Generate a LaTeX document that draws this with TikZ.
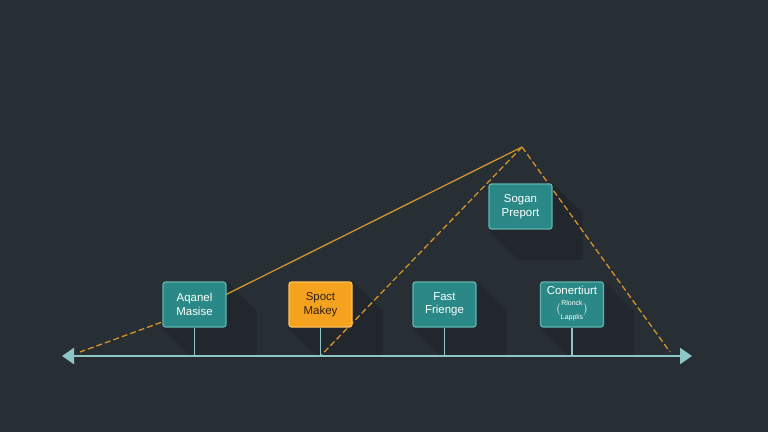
\documentclass[tikz,border=0pt]{standalone}
\usepackage{fontspec}
\setmainfont{Liberation Sans}
\usetikzlibrary{arrows.meta,backgrounds}
\definecolor{bgdark}{HTML}{272E34}
\definecolor{shadowdark}{HTML}{21272C}
\definecolor{tealbox}{HTML}{2A8886}
\definecolor{tealedge}{HTML}{62B4B1}
\definecolor{orangebox}{HTML}{F5A21F}
\definecolor{orangeedge}{HTML}{FFC058}
\definecolor{guideline}{HTML}{D4922A}
\definecolor{axisline}{HTML}{8EC5C6}

\begin{document}
\begin{tikzpicture}[x=1bp,y=-1bp,
    tbox/.style={draw=tealedge,fill=tealbox,line width=1.2bp,rounded corners=2.5bp,
        minimum width=63bp,minimum height=45bp,inner sep=1bp,align=center,
        text=white,font=\fontsize{11.5}{13.5}\selectfont},
    obox/.style={tbox,draw=orangeedge,fill=orangebox,text=black!75!brown},
    guide/.style={guideline,line width=1.3bp},
    stem/.style={axisline,line width=1.5bp}]
    \useasboundingbox (0,0) rectangle (768,432);
    % milestones
    \node[tbox] (aqanel) at (194.5,304.5) {Aqanel\\Masise};
    \node[obox] (spoct) at (320.5,304.5) {Spoct\\Makey};
    \node[tbox] (fast) at (444.5,304.5) {Fast\\Frienge};
    \node[tbox] (conert) at (572,304.5) {Conertiurt\\[1bp]$\bigl(\begin{tabular}{@{}c@{}}\fontsize{7}{7.5}\selectfont Rlonck\\\fontsize{7}{7.5}\selectfont Lapplis\end{tabular}\bigr)$};
    \node[tbox] (sogan) at (520.5,206.5) {Sogan\\Preport};
    \coordinate (apex) at (522,147);
    \coordinate (leftend) at (80,352);
    \coordinate (rightend) at (670,352);
    \coordinate (bend) at (195,310);
    \coordinate (axisL) at (62,356);
    \coordinate (axisR) at (692,356);
    \begin{scope}[on background layer]
    \fill[bgdark] (0,0) rectangle (768,432);
    \foreach \n in {aqanel,spoct,fast,conert,sogan}
        \fill[shadowdark] (\n.north east) -- ([shift={(30,30)}]\n.north east) -- ([shift={(30,30)}]\n.south east)
            -- ([shift={(30,30)}]\n.south west) -- (\n.south west) -- cycle;
    \draw[guide] (apex) -- (bend);
    \draw[guide,dash pattern=on 6bp off 3bp] (bend) -- (leftend);
    \draw[guide,dash pattern=on 6bp off 3bp] (apex) -- (spoct.south |- axisL);
    \draw[guide,dash pattern=on 6bp off 3bp] (apex) -- (rightend);
    \foreach \n in {aqanel,spoct,fast,conert}
        \draw[stem] (\n.south) -- (\n.south |- axisL);
    \end{scope}
    \draw[axisline,line width=2.5bp,{Triangle[length=12bp,width=16bp]}-{Triangle[length=12bp,width=16bp]}] (axisL) -- (axisR);
\end{tikzpicture}
\end{document}
